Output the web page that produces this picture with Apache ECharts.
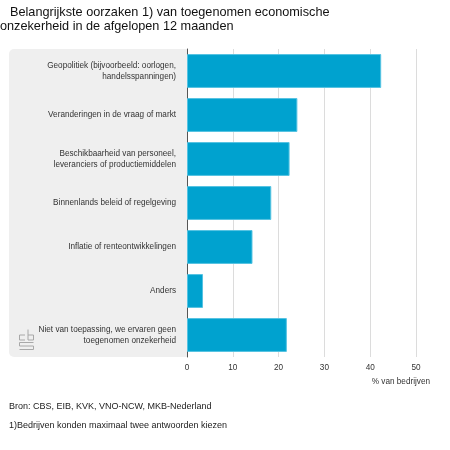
<!DOCTYPE html>
<html>
<head>
<meta charset="utf-8">
<script src="https://cdn.jsdelivr.net/npm/echarts@6/dist/echarts.min.js"></script>
<style>
  html, body { margin: 0; padding: 0; background: #fff; }
  #chart { width: 450px; height: 450px; }
</style>
</head>
<body>
<div id="chart"></div>
<script>
// categorieen en waarden (% van bedrijven)
const categories = [
  "Geopolitiek (bijvoorbeeld: oorlogen,\nhandelsspanningen)",
  "Veranderingen in de vraag of markt",
  "Beschikbaarheid van personeel,\nleveranciers of productiemiddelen",
  "Binnenlands beleid of regelgeving",
  "Inflatie of renteontwikkelingen",
  "Anders",
  "Niet van toepassing, we ervaren geen\ntoegenomen onzekerheid"
];
const values = [42.4, 24.1, 22.4, 18.4, 14.3, 3.5, 21.8];
const xTicks = [0, 10, 20, 30, 40, 50];

const font = "Liberation Sans, Arial, sans-serif";
// grid positie
const gLeft = 187, gTop = 49, gRight = 34, gBottom = 93;

const chart = echarts.init(document.getElementById("chart"));

chart.setOption({
  animation: false,
  textStyle: { fontFamily: font },
  grid: { left: gLeft, right: gRight, top: gTop, bottom: gBottom, containLabel: false },
  xAxis: {
    type: "value",
    min: xTicks[0],
    max: xTicks[xTicks.length - 1],
    interval: 10,
    axisLine: { show: false },
    axisTick: { show: false },
    axisLabel: { fontSize: 8.2, color: "#333", margin: 7, fontFamily: font },
    splitLine: { lineStyle: { color: "#dcdcdc", width: 1 } }
  },
  yAxis: {
    type: "category",
    data: categories,
    inverse: true,
    axisLine: { show: true, lineStyle: { color: "#555", width: 1 } },
    axisTick: { show: false },
    axisLabel: { fontSize: 8.2, color: "#333", margin: 11, lineHeight: 11.5, align: "right", fontFamily: font },
    splitLine: { show: false }
  },
  series: [{
    type: "bar",
    data: values,
    barWidth: "77%",
    itemStyle: { color: "#00a2cf", borderColor: "#55c3e2", borderWidth: 1 },
    z: 3
  }],
  graphic: [
    // grijs paneel achter de labels
    {
      type: "rect", z: -10,
      shape: { x: 9, y: gTop, width: gLeft - 9, height: 450 - gTop - gBottom, r: [5, 0, 0, 5] },
      style: { fill: "#efefef" }
    },
    // cbs logo
    {
      type: "group", left: 17, top: 327, z: 5,
      children: [
        { type: "polyline", shape: { points: [[6, 6], [0.5, 6], [0.5, 11], [6, 11]] }, style: { stroke: "#a8a8a8", fill: null, lineWidth: 1 } },
        { type: "polyline", shape: { points: [[9, 0.5], [9, 11], [14.5, 11], [14.5, 6], [9, 6]] }, style: { stroke: "#a8a8a8", fill: null, lineWidth: 1 } },
        { type: "polyline", shape: { points: [[14.5, 13.5], [0.5, 13.5], [0.5, 17], [14.5, 17], [14.5, 20.5], [0.5, 20.5]] }, style: { stroke: "#a8a8a8", fill: null, lineWidth: 1 } }
      ]
    },
    // titel
    { type: "text", left: 10, top: 6, style: { text: "Belangrijkste oorzaken 1) van toegenomen economische", font: "12.7px " + font, fill: "#111" } },
    { type: "text", left: 0, top: 20, style: { text: "onzekerheid in de afgelopen 12 maanden", font: "12.7px " + font, fill: "#111" } },
    // as-titel
    { type: "text", right: 20, top: 378, style: { text: "% van bedrijven", font: "8.2px " + font, fill: "#333" } },
    // bron en voetnoot
    { type: "text", left: 9, top: 402, style: { text: "Bron: CBS, EIB, KVK, VNO-NCW, MKB-Nederland", font: "9px " + font, fill: "#222" } },
    { type: "text", left: 9, top: 421, style: { text: "1)Bedrijven konden maximaal twee antwoorden kiezen", font: "9px " + font, fill: "#222" } }
  ]
});
</script>
</body>
</html>
